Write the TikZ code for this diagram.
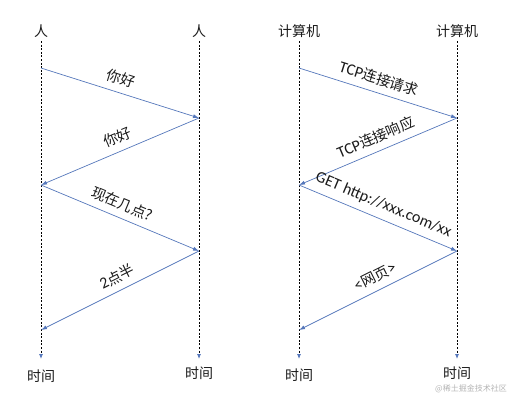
\documentclass[tikz,border=0pt]{standalone}
\usepackage{fontspec}
\setmainfont{Noto Sans CJK SC}
\newfontfamily\lat{Carlito}
\usetikzlibrary{arrows.meta}
\definecolor{msg}{HTML}{5577BB}
\definecolor{txt}{HTML}{1A1A1A}
\definecolor{wm}{HTML}{B4B4B4}
\begin{document}
\begin{tikzpicture}[x=1bp,y=-1bp,
  font=\fontsize{14bp}{16bp}\selectfont,
  every node/.style={text=txt},
  life/.style={draw=black, line width=0.8bp, dash pattern=on 2bp off 1.6bp,
    -{Latex[length=5bp,width=4bp,color=msg]}},
  msgline/.style={draw=msg, line width=0.7bp, -{Latex[length=6bp,width=4bp]}},
  lbl/.style={sloped, above=5bp, inner sep=2bp, pos=0.48, font=\fontsize{14.5bp}{16bp}\selectfont},
  head/.style={inner sep=1bp}]
\useasboundingbox (0,0) rectangle (518,406);

% ---------- left diagram ----------
\node[head] (hA) at (41,31) {人};
\node[head] (hB) at (199,31) {人};
\coordinate (At) at (41,41);  \coordinate (Ab) at (41,359);
\coordinate (Bt) at (199,41); \coordinate (Bb) at (199,359);
\draw[life] (At) -- (Ab);
\draw[life] (Bt) -- (Bb);
\node[head] (tA) at (41,376) {时间};
\node[head] (tB) at (199,373) {时间};

\coordinate (a1) at (41,68);  \coordinate (b1) at (199,118);
\coordinate (a2) at (41,185); \coordinate (b2) at (199,251);
\coordinate (a3) at (41,330);
\draw[msgline] (a1) -- node[lbl] {你好} (b1);
\draw[msgline] (b1) -- node[lbl] {你好} (a2);
\draw[msgline] (a2) -- node[lbl] {现在几点?} (b2);
\draw[msgline] (b2) -- node[lbl] {{\lat\fontsize{16bp}{16bp}\selectfont 2}点半} (a3);

% ---------- right diagram ----------
\node[head] (hC) at (299,31) {计算机};
\node[head] (hD) at (457,31) {计算机};
\coordinate (Ct) at (299,41);  \coordinate (Cb) at (299,359);
\coordinate (Dt) at (457,41);  \coordinate (Db) at (457,359);
\draw[life] (Ct) -- (Cb);
\draw[life] (Dt) -- (Db);
\node[head] (tC) at (299,375) {时间};
\node[head] (tD) at (457,373) {时间};

\coordinate (c1) at (299,68);  \coordinate (d1) at (457,118);
\coordinate (c2) at (299,185); \coordinate (d2) at (457,251);
\coordinate (c3) at (299,330);
\draw[msgline] (c1) -- node[lbl] {{\lat\fontsize{16bp}{16bp}\selectfont TCP}连接请求} (d1);
\draw[msgline] (d1) -- node[lbl] {{\lat\fontsize{16bp}{16bp}\selectfont TCP}连接响应} (c2);
\draw[msgline] (c2) -- node[lbl, pos=0.5] {{\lat\fontsize{16bp}{16bp}\selectfont GET http://xxx.com/xx}} (d2);
\draw[msgline] (d2) -- node[lbl] {{\lat\fontsize{16bp}{16bp}\selectfont <}网页{\lat\fontsize{16bp}{16bp}\selectfont >}} (c3);

% watermark
\node[text=wm, font=\fontsize{8bp}{10bp}\selectfont, inner sep=0pt] (wmk) at (471,389) {@稀土掘金技术社区};
\end{tikzpicture}
\end{document}
